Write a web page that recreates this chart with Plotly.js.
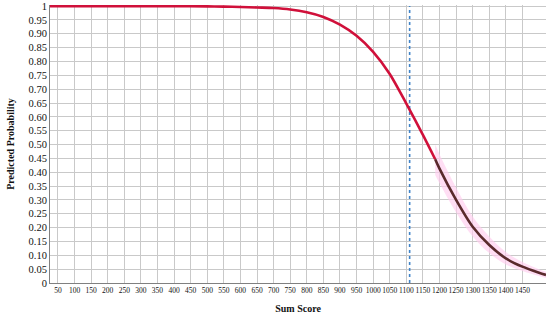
<!DOCTYPE html>
<html>
<head>
<meta charset="utf-8">
<script src="https://cdn.plot.ly/plotly-3.0.1.min.js"></script>
<style>html,body{margin:0;padding:0;background:#fff}#chart{width:550px;height:315px}</style>
</head>
<body>
<div id="chart"></div>
<script>
// Predicted probability curve
const upperX = [26, 100, 200, 300, 400, 500, 550, 600, 650, 700, 750, 800, 850, 900, 950, 1000, 1050, 1100, 1150, 1187];
const upperP = [1.0, 1.0, 1.0, 1.0, 1.0, 0.999, 0.998, 0.997, 0.995, 0.993, 0.988, 0.978, 0.961, 0.933, 0.893, 0.835, 0.755, 0.648, 0.535, 0.447];
const lowerX = [1187, 1200, 1250, 1300, 1350, 1400, 1450, 1500, 1521];
const lowerP = [0.447, 0.413, 0.30, 0.203, 0.137, 0.089, 0.059, 0.037, 0.029];
const bandHi = [0.50, 0.465, 0.345, 0.24, 0.168, 0.112, 0.076, 0.05, 0.041];
const bandLo = [0.39, 0.36, 0.255, 0.168, 0.108, 0.067, 0.043, 0.025, 0.018];
const cutX = [1110, 1110];
const cutY = [0, 1];
const xTicks = [50,100,150,200,250,300,350,400,450,500,550,600,650,700,750,800,850,900,950,1000,1050,1100,1150,1200,1250,1300,1350,1400,1450];
const yTicks = [0,0.05,0.10,0.15,0.20,0.25,0.30,0.35,0.40,0.45,0.50,0.55,0.60,0.65,0.70,0.75,0.80,0.85,0.90,0.95,1];
const yTickText = ['0','0.05','0.10','0.15','0.20','0.25','0.30','0.35','0.40','0.45','0.50','0.55','0.60','0.65','0.70','0.75','0.80','0.85','0.90','0.95','1'];

const traces = [
  {x: lowerX, y: bandHi, mode: 'lines', line: {width: 0, shape: 'spline'}, hoverinfo: 'skip', showlegend: false},
  {x: lowerX, y: bandLo, mode: 'lines', line: {width: 0, shape: 'spline'}, fill: 'tonexty', fillcolor: 'rgba(255,205,238,0.65)', hoverinfo: 'skip', showlegend: false},
  {x: cutX, y: cutY, mode: 'lines', line: {color: '#3f83c8', width: 1.6, dash: 'dot'}, showlegend: false},
  {x: upperX, y: upperP, mode: 'lines', line: {color: '#d0103a', width: 2.6, shape: 'spline', smoothing: 0.8}, showlegend: false},
  {x: lowerX, y: lowerP, mode: 'lines', line: {color: '#5a2a2c', width: 2.6, shape: 'spline', smoothing: 0.8}, showlegend: false}
];

const layout = {
  width: 550, height: 315,
  margin: {l: 50, r: 4, t: 5, b: 32},
  paper_bgcolor: '#fff', plot_bgcolor: '#fff',
  showlegend: false,
  font: {family: '"Liberation Serif", serif', color: '#111'},
  xaxis: {
    range: [26, 1521], tickmode: 'array', tickvals: xTicks, ticktext: xTicks.map(String),
    tickangle: 0,
    showgrid: true, gridcolor: '#c9c9c9', gridwidth: 1,
    zeroline: false, showline: true, linecolor: '#808080', linewidth: 1,
    ticks: '', tickfont: {size: 7.5, family: '"Liberation Serif", serif', color: '#111'},
    title: {text: '<b>Sum Score</b>', font: {size: 10, family: '"Liberation Serif", serif', color: '#111'}, standoff: 10},
    automargin: false, fixedrange: true
  },
  yaxis: {
    range: [0, 1.004], tickmode: 'array', tickvals: yTicks, ticktext: yTickText,
    showgrid: true, gridcolor: '#c9c9c9', gridwidth: 1,
    zeroline: false, showline: true, linecolor: '#808080', linewidth: 1,
    ticks: '', tickfont: {size: 10.5, family: '"Liberation Serif", serif', color: '#111'},
    title: {text: '<b>Predicted Probability</b>', font: {size: 10, family: '"Liberation Serif", serif', color: '#111'}, standoff: 12},
    automargin: false, fixedrange: true
  }
};

Plotly.newPlot('chart', traces, layout, {staticPlot: true, displayModeBar: false});
</script>
</body>
</html>
